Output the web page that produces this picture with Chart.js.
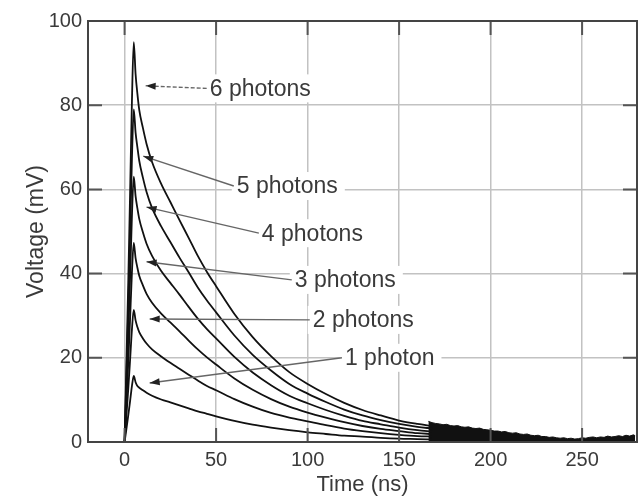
<!DOCTYPE html>
<html><head><meta charset="utf-8">
<script src="https://cdn.jsdelivr.net/npm/chart.js@4.4.1/dist/chart.umd.min.js"></script>
<style>html,body{margin:0;padding:0;background:#fff}canvas{display:block}</style>
</head><body>
<canvas id="c" width="640" height="498"></canvas>
<script>
// ---- data ----
const time = [0,1,2,3,4,5,6,7,8,10,12,15,20,25,30,35,40,45,50,60,70,80,90,100,110,120,130,140,150,160,168];
const photons6 = [0,19,38,59,80.8,95,87.4,82.7,78.9,74.6,70.8,66.5,61.3,57,52.7,48.5,44.2,40.4,37,30.4,24.9,20.4,16.6,13.8,11.4,9.3,7.6,6.3,5.1,4.3,3.8];
const photons5 = [0,15.8,31.6,49,67.2,79,73.5,70,66.8,62.8,59.4,55.6,51.2,47.5,43.8,40.3,36.7,33.6,30.8,25.3,20.7,17,13.8,11.5,9.5,7.7,6.3,5.2,4.3,3.6,3.2];
const photons4 = [0,12.6,25.2,39,53.6,63,58.4,55.5,53,49.8,47.1,44.2,40.6,37.8,35,32.1,29.3,26.8,24.6,20.2,16.5,13.5,11,9.2,7.6,6.2,5,4.2,3.4,2.8,2.5];
const photons3 = [0,9.5,18.9,29.3,40.2,47.3,43.7,41.4,39.5,37.2,35.2,33.1,30.5,28.4,26.3,24.1,22,20.1,18.4,15.1,12.4,10.2,8.4,7.0,5.8,4.7,3.8,3.1,2.6,2.1,1.9];
const photons2 = [0,6.3,12.6,19.5,26.7,31.4,28.9,27.3,26.1,24.6,23.4,22,20.3,18.8,17.4,16,14.6,13.3,12.3,10.2,8.4,6.9,5.8,4.9,4.0,3.2,2.6,2.1,1.7,1.4,1.3];
const photons1 = [0,3.1,6.3,9.7,13.3,15.7,14.2,13.3,12.9,12.3,11.7,11,10.1,9.4,8.7,8,7.3,6.7,6.1,5,4.1,3.4,2.8,2.3,1.9,1.5,1.3,1,0.8,0.7,0.6];
const tailTime = [166,168,170,172,174,176,178,180,182,184,186,188,190,192,194,196,198,200,202,204,206,208,210,212,214,216,218,220,222,224,226,228,230,232,234,236,238,240,242,244,246,248,250,252,254,256,258,260,262,264,266,268,270,272,274,276,278,279];
const tailTop = [4.9,4.6,4.4,4.3,4.1,4.2,3.9,3.8,3.9,3.6,3.5,3.6,3.3,3.2,3.3,3.0,2.9,2.8,2.6,2.6,2.4,2.5,2.2,2.1,2.2,1.9,1.8,1.9,1.6,1.5,1.6,1.3,1.3,1.1,1.2,1.0,0.9,1.0,0.8,0.9,0.7,0.8,1.0,0.9,1.1,1.2,1.0,1.2,1.1,1.4,1.2,1.3,1.5,1.3,1.6,1.4,1.7,1.5];
const xTicks = [0,50,100,150,200,250];
const yTicks = [0,20,40,60,80,100];
const labelTexts = ['6 photons','5 photons','4 photons','3 photons','2 photons','1 photon'];
const labelAnchors = [[46.5,84],[61.3,60.8],[75,49.6],[93,38.5],[102.8,29],[120.4,20]];
const arrowTips = [[11.5,84.6],[10.2,67.9],[12,55.8],[12,42.8],[13.7,29.2],[13.7,14]];

const FONT = "'Liberation Sans', Arial, sans-serif";
const TXT = '#3a3a3a';

const curves = [photons6,photons5,photons4,photons3,photons2,photons1];
const datasets = curves.map(arr => ({
  data: time.map((t,i)=>({x:t,y:arr[i]})),
  borderColor:'#111', borderWidth:1.8, pointRadius:0, fill:false,
  cubicInterpolationMode:'monotone'
}));
datasets.push({
  data: tailTime.map((t,i)=>({x:t,y:tailTop[i]})),
  borderColor:'#111', backgroundColor:'#111', borderWidth:1, pointRadius:0, fill:'origin', tension:0
});

const decor = {
  id:'decor',
  afterDatasetsDraw(chart){
    const {ctx, chartArea:a, scales:{x,y}} = chart;
    ctx.save();
    ctx.strokeStyle = '#555'; ctx.lineWidth = 2;
    const L = 14;
    xTicks.forEach(v=>{
      const px = x.getPixelForValue(v);
      ctx.beginPath();
      ctx.moveTo(px,a.bottom); ctx.lineTo(px,a.bottom-L);
      ctx.moveTo(px,a.top); ctx.lineTo(px,a.top+L);
      ctx.stroke();
    });
    yTicks.forEach(v=>{
      const py = y.getPixelForValue(v);
      ctx.beginPath();
      ctx.moveTo(a.left,py); ctx.lineTo(a.left+L,py);
      ctx.moveTo(a.right,py); ctx.lineTo(a.right-L,py);
      ctx.stroke();
    });
    ctx.strokeStyle = '#444'; ctx.lineWidth = 2;
    ctx.strokeRect(a.left, a.top, a.right-a.left, a.bottom-a.top);
    ctx.font = '23px ' + FONT;
    ctx.textBaseline = 'middle';
    labelTexts.forEach((txt,i)=>{
      const lx = x.getPixelForValue(labelAnchors[i][0]);
      const ly = y.getPixelForValue(labelAnchors[i][1]);
      const tx = x.getPixelForValue(arrowTips[i][0]);
      const ty = y.getPixelForValue(arrowTips[i][1]);
      const w = ctx.measureText(txt).width;
      ctx.fillStyle = '#fff';
      ctx.fillRect(lx-5, ly-14, w+12, 28);
      ctx.strokeStyle = '#666'; ctx.lineWidth = 1.4;
      ctx.setLineDash(i===0 ? [4,2] : []);
      const sx = lx-3, sy = ly;
      ctx.beginPath(); ctx.moveTo(sx,sy); ctx.lineTo(tx,ty); ctx.stroke();
      ctx.setLineDash([]);
      const ang = Math.atan2(ty-sy, tx-sx);
      const hl = 10, hw = 3.5;
      ctx.fillStyle = '#222';
      ctx.beginPath();
      ctx.moveTo(tx,ty);
      ctx.lineTo(tx - hl*Math.cos(ang) + hw*Math.sin(ang), ty - hl*Math.sin(ang) - hw*Math.cos(ang));
      ctx.lineTo(tx - hl*Math.cos(ang) - hw*Math.sin(ang), ty - hl*Math.sin(ang) + hw*Math.cos(ang));
      ctx.closePath(); ctx.fill();
      ctx.fillStyle = TXT;
      ctx.textAlign = 'left';
      ctx.fillText(txt, lx, ly+1);
    });
    ctx.restore();
  }
};

new Chart(document.getElementById('c'), {
  type:'line',
  data:{datasets},
  options:{
    responsive:false, animation:false,
    layout:{padding:{top:21,right:3,left:0,bottom:0}},
    plugins:{legend:{display:false}, tooltip:{enabled:false}},
    scales:{
      x:{
        type:'linear', min:-20, max:280,
        afterBuildTicks: s => { s.ticks = xTicks.map(v=>({value:v})); },
        afterFit: s => { s.height = 56; },
        grid:{color:'#c2c2c2', lineWidth:1.5, drawTicks:false},
        border:{display:false},
        ticks:{font:{size:20,family:FONT}, color:TXT, padding:6, maxRotation:0, autoSkip:false},
        title:{display:true, text:'Time (ns)', color:TXT, font:{size:22,family:FONT}, padding:{top:0,bottom:0}}
      },
      y:{
        type:'linear', min:0, max:100,
        afterBuildTicks: s => { s.ticks = yTicks.map(v=>({value:v})); },
        afterFit: s => { s.width = 88; },
        grid:{color:'#c2c2c2', lineWidth:1.5, drawTicks:false},
        border:{display:false},
        ticks:{font:{size:20,family:FONT}, color:TXT, padding:6},
        title:{display:true, text:'Voltage (mV)', color:TXT, font:{size:23,family:FONT}, padding:{top:23,bottom:0}}
      }
    }
  },
  plugins:[decor]
});
</script>
</body></html>
